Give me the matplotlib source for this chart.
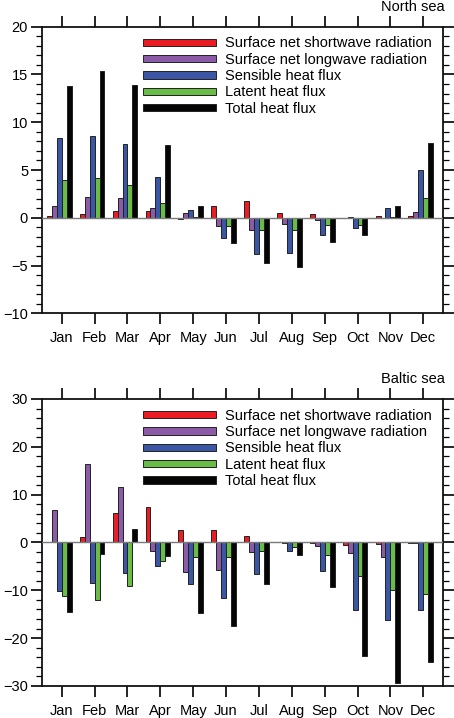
import numpy as np
import matplotlib
matplotlib.use("Agg")
import matplotlib.pyplot as plt
from matplotlib.ticker import MultipleLocator

plt.rcParams['font.family'] = ['Liberation Sans', 'DejaVu Sans']
plt.rcParams['font.size'] = 10.5

months = ["Jan", "Feb", "Mar", "Apr", "May", "Jun",
          "Jul", "Aug", "Sep", "Oct", "Nov", "Dec"]
labels = ["Surface net shortwave radiation", "Surface net longwave radiation",
          "Sensible heat flux", "Latent heat flux", "Total heat flux"]
colors = ["#ec1c24", "#8c5ba8", "#3a56a5", "#68bd46", "#050505"]

# North sea
north_sw = [0.2, 0.4, 0.7, 0.7, -0.1, 1.2, 1.75, 0.55, 0.35, -0.05, 0.15, 0.15]
north_lw = [1.2, 2.2, 2.1, 1.0, 0.55, -0.9, -1.3, -0.7, -0.2, 0.1, -0.05, 0.65]
north_sens = [8.4, 8.6, 7.7, 4.3, 0.8, -2.1, -3.8, -3.7, -1.8, -1.1, 1.0, 5.0]
north_lat = [4.0, 4.2, 3.4, 1.6, 0.05, -0.85, -1.3, -1.3, -0.8, -0.8, 0.05, 2.1]
north_tot = [13.8, 15.4, 13.9, 7.65, 1.25, -2.6, -4.75, -5.1, -2.5, -1.85, 1.2, 7.8]

# Baltic sea
baltic_sw = [0.05, 1.1, 6.2, 7.4, 2.7, 2.7, 1.4, 0.2, -0.1, -0.5, -0.35, -0.1]
baltic_lw = [6.7, 16.4, 11.6, -1.7, -6.1, -5.8, -2.0, -0.2, -0.7, -2.2, -3.0, -0.1]
baltic_sens = [-10.1, -8.4, -6.3, -4.9, -8.6, -11.6, -6.5, -1.7, -5.9, -14.2, -16.2, -14.1]
baltic_lat = [-11.2, -12.0, -9.0, -3.8, -3.0, -3.0, -1.7, -1.0, -2.6, -7.0, -10.0, -10.7]
baltic_tot = [-14.5, -2.5, 2.9, -2.8, -14.7, -17.5, -8.7, -2.7, -9.4, -23.8, -29.3, -25.0]

x = np.arange(1, 13)
width = 0.15
offsets = [-0.375, -0.225, -0.075, 0.075, 0.225]

fig = plt.figure(figsize=(4.54, 7.18), dpi=100)
ax1 = fig.add_axes([0.0925, 0.5636, 0.8833, 0.3992])
ax2 = fig.add_axes([0.0925, 0.0446, 0.8833, 0.3997])


def panel(ax, series, title, ylim, major, minor):
    for s, off, c, lab in zip(series, offsets, colors, labels):
        ax.bar(x + off, s, width, color=c, edgecolor="#222222", linewidth=0.7,
               label=lab, zorder=2)
    ax.axhline(0, color="#7a7a7a", lw=1.0, zorder=3)
    ax.set_xlim(0.4, 12.6)
    ax.set_ylim(*ylim)
    ax.set_xticks(x)
    ax.set_xticklabels(months)
    ax.yaxis.set_major_locator(MultipleLocator(major))
    ax.yaxis.set_minor_locator(MultipleLocator(minor))
    ax.tick_params(axis="x", which="major", direction="out", length=8, width=1.2,
                   top=True, bottom=True, pad=5)
    ax.tick_params(axis="y", which="major", direction="out", length=8, width=1.2,
                   left=True, right=True, pad=2)
    ax.tick_params(axis="y", which="minor", direction="out", length=4, width=0.9,
                   left=True, right=True)
    for sp in ax.spines.values():
        sp.set_linewidth(1.3)
        sp.set_color("#111111")
    ax.text(1.004, 1.068, title, transform=ax.transAxes, ha="right", va="center")
    ax.legend(loc="upper left", bbox_to_anchor=(0.252, 0.966), frameon=False,
              borderpad=0, borderaxespad=0, handlelength=5.0, handleheight=0.4,
              handletextpad=0.6, labelspacing=0.16)


panel(ax1, [north_sw, north_lw, north_sens, north_lat, north_tot],
      "North sea", (-10, 20), 5, 1)
panel(ax2, [baltic_sw, baltic_lw, baltic_sens, baltic_lat, baltic_tot],
      "Baltic sea", (-30, 30), 10, 2)

fig.savefig("out.png", dpi=100)
